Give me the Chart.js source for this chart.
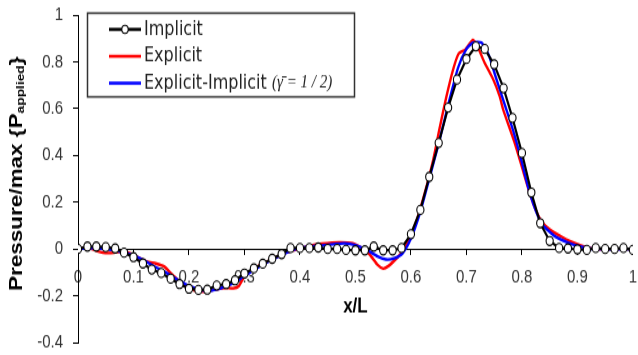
<!DOCTYPE html>
<html>
<head>
<meta charset="utf-8">
<script src="https://cdn.jsdelivr.net/npm/chart.js@4.4.1/dist/chart.umd.min.js"></script>
<style>
  html, body { margin: 0; padding: 0; background: #fff; }
  body { width: 638px; height: 355px; }
  /* the source picture is a vertically stretched plot, so draw at 284px and stretch */
  #wrap { width: 638px; height: 284px; transform: scaleY(1.25); transform-origin: 0 0; }
</style>
</head>
<body>
<div id="wrap"><canvas id="pressureChart"></canvas></div>
<script>
// tick labels
const xTicks = [0, 0.1, 0.2, 0.3, 0.4, 0.5, 0.6, 0.7, 0.8, 0.9, 1];
const yTicks = [-0.4, -0.2, 0, 0.2, 0.4, 0.6, 0.8, 1];

// Implicit (black, with markers)
const implicitX = [
  0, 0.017, 0.033, 0.05, 0.067, 0.083, 0.1, 0.117, 0.133, 0.15,
  0.167, 0.183, 0.2, 0.217, 0.233, 0.25, 0.267, 0.283, 0.3, 0.317,
  0.333, 0.35, 0.367, 0.383, 0.4, 0.417, 0.433, 0.45, 0.467, 0.483,
  0.5, 0.517, 0.533, 0.55, 0.567, 0.583, 0.6, 0.617, 0.633, 0.65,
  0.667, 0.683, 0.7, 0.717, 0.733, 0.75, 0.767, 0.783, 0.8, 0.817,
  0.833, 0.85, 0.867, 0.883, 0.9, 0.917, 0.933, 0.95, 0.967, 0.983, 1
];
const implicitY = [
  0, 0.01, 0.01, 0.008, 0.002, -0.016, -0.035, -0.062, -0.088, -0.103,
  -0.127, -0.15, -0.17, -0.175, -0.174, -0.156, -0.15, -0.134, -0.105, -0.083,
  -0.063, -0.042, -0.022, 0.004, 0.004, 0.004, 0.006, 0, 0, -0.004,
  -0.006, -0.006, 0.01, -0.006, -0.006, 0.004, 0.063, 0.167, 0.308, 0.453,
  0.604, 0.724, 0.812, 0.866, 0.855, 0.789, 0.687, 0.56, 0.41, 0.241,
  0.11, 0.034, 0.004, 0.002, -0.002, -0.004, 0.004, 0, 0, 0.004, -0.004
];

// Explicit (red)
const explicitX = [
  0, 0.02, 0.033, 0.045, 0.065, 0.08, 0.095, 0.11, 0.125, 0.14,
  0.155, 0.17, 0.19, 0.21, 0.23, 0.25, 0.265, 0.28, 0.29, 0.3,
  0.32, 0.34, 0.355, 0.37, 0.385, 0.4, 0.42, 0.44, 0.47, 0.495,
  0.51, 0.525, 0.54, 0.55, 0.56, 0.575, 0.585, 0.595, 0.61, 0.625,
  0.64, 0.652, 0.664, 0.676, 0.686, 0.698, 0.712, 0.721, 0.733, 0.748,
  0.76, 0.766, 0.787, 0.8, 0.814, 0.825, 0.838, 0.855, 0.871, 0.885,
  0.9, 0.915, 0.93, 0.96, 1
];
const explicitY = [
  0.003, 0.005, -0.008, -0.016, -0.016, -0.01, -0.02, -0.038, -0.055, -0.062,
  -0.075, -0.11, -0.155, -0.177, -0.182, -0.172, -0.166, -0.168, -0.158, -0.118,
  -0.08, -0.055, -0.038, -0.02, -0.008, 0.002, 0.014, 0.022, 0.028, 0.024,
  0.006, -0.022, -0.068, -0.084, -0.072, -0.038, -0.01, 0.035, 0.12, 0.24,
  0.38, 0.52, 0.652, 0.767, 0.835, 0.852, 0.894, 0.86, 0.795, 0.726,
  0.652, 0.597, 0.453, 0.35, 0.239, 0.165, 0.11, 0.075, 0.053, 0.035,
  0.02, 0.008, 0, 0, 0
];

// Explicit-Implicit (blue)
const mixedX = [
  0, 0.03, 0.06, 0.08, 0.1, 0.12, 0.14, 0.16, 0.18, 0.2,
  0.22, 0.24, 0.26, 0.28, 0.3, 0.32, 0.34, 0.36, 0.38, 0.4,
  0.42, 0.44, 0.46, 0.48, 0.5, 0.52, 0.54, 0.555, 0.57, 0.585,
  0.6, 0.617, 0.633, 0.65, 0.667, 0.685, 0.7, 0.712, 0.727, 0.74,
  0.754, 0.77, 0.785, 0.8, 0.814, 0.835, 0.859, 0.883, 0.905, 0.93, 1
];
const mixedY = [
  0, 0.005, -0.004, -0.014, -0.028, -0.05, -0.078, -0.103, -0.132, -0.158,
  -0.174, -0.178, -0.166, -0.146, -0.115, -0.085, -0.058, -0.034, -0.012, 0.004,
  0.01, 0.015, 0.02, 0.024, 0.016, -0.004, -0.032, -0.045, -0.04, -0.018,
  0.045, 0.16, 0.3, 0.45, 0.615, 0.775, 0.855, 0.882, 0.882, 0.83,
  0.726, 0.61, 0.5, 0.37, 0.24, 0.11, 0.055, 0.027, 0.01, 0, 0
];

function toPoints(xs, ys) {
  return xs.map((x, i) => ({ x: x, y: ys[i] }));
}

// legend box + y title with subscript, drawn on the canvas
const paperDecor = {
  id: 'paperDecor',
  afterDraw(chart) {
    const ctx = chart.ctx;
    ctx.save();

    // legend
    ctx.strokeStyle = '#333';
    ctx.lineWidth = 1.5;
    ctx.strokeRect(87.5, 10.5, 267, 67);
    const rowY = [23.5, 45, 66.5];
    chart.data.datasets.forEach((ds, i) => {
      const y = rowY[i];
      ctx.strokeStyle = ds.borderColor;
      ctx.lineWidth = 2.5;
      ctx.beginPath();
      ctx.moveTo(109, y);
      ctx.lineTo(141, y);
      ctx.stroke();
      if (ds.pointRadius > 0) {
        ctx.beginPath();
        ctx.arc(125, y, 3.2, 0, Math.PI * 2);
        ctx.fillStyle = '#fff';
        ctx.fill();
        ctx.lineWidth = 1.1;
        ctx.strokeStyle = '#000';
        ctx.stroke();
      }
      ctx.fillStyle = '#222';
      ctx.font = '16px "DejaVu Sans"';
      ctx.textBaseline = 'middle';
      ctx.textAlign = 'left';
      ctx.fillText(ds.label, 144, y);
    });
    ctx.font = 'italic 15px "Liberation Serif"';
    ctx.fillText('(γ\u0304 = 1 / 2)', 272, rowY[2]);

    // y axis title
    ctx.translate(17, 139);
    ctx.rotate(-Math.PI / 2);
    ctx.fillStyle = '#000';
    ctx.textBaseline = 'middle';
    const mainFont = 'bold 18px "Liberation Sans"';
    const subFont = 'bold 11px "Liberation Sans"';
    const t1 = 'Pressure/max {P', t2 = 'applied', t3 = '}';
    ctx.font = mainFont;
    const w1 = ctx.measureText(t1).width, w3 = ctx.measureText(t3).width;
    ctx.font = subFont;
    const w2 = ctx.measureText(t2).width;
    let x0 = -(w1 + w2 + w3) / 2;
    ctx.font = mainFont;
    ctx.fillText(t1, x0, 0);
    ctx.font = subFont;
    ctx.fillText(t2, x0 + w1, 4);
    ctx.font = mainFont;
    ctx.fillText(t3, x0 + w1 + w2, 0);
    ctx.restore();
  }
};

const tickFont = { family: '"Liberation Sans", Arial, sans-serif', size: 15, lineHeight: 1 };

new Chart(document.getElementById('pressureChart').getContext('2d'), {
  type: 'line',
  data: {
    datasets: [{
      label: 'Implicit',
      data: toPoints(implicitX, implicitY),
      borderColor: '#000000',
      borderWidth: 2.2,
      pointRadius: 3.6,
      pointBackgroundColor: '#ffffff',
      pointBorderColor: '#000000',
      pointBorderWidth: 1.1,
      tension: 0,
      order: 0
    }, {
      label: 'Explicit',
      data: toPoints(explicitX, explicitY),
      borderColor: '#ff0000',
      borderWidth: 2.4,
      pointRadius: 0,
      tension: 0.2,
      order: 2
    }, {
      label: 'Explicit-Implicit',
      data: toPoints(mixedX, mixedY),
      borderColor: '#0000ff',
      borderWidth: 2.4,
      pointRadius: 0,
      tension: 0.2,
      order: 1
    }]
  },
  options: {
    responsive: true,
    maintainAspectRatio: false,
    animation: false,
    layout: { padding: { top: 12, bottom: 10, left: 0, right: 3 } },
    plugins: { legend: { display: false }, tooltip: { enabled: false } },
    scales: {
      x: {
        type: 'linear',
        position: { y: 0 },
        min: 0,
        max: 1,
        afterBuildTicks: (scale) => { scale.ticks = xTicks.map(v => ({ value: v })); },
        afterFit: (scale) => { scale.paddingLeft = 0; scale.paddingRight = 0; },
        grid: { drawOnChartArea: false, drawTicks: true, tickLength: 4, color: '#000' },
        border: { display: true, color: '#000', width: 1 },
        ticks: {
          autoSkip: false, maxRotation: 0, padding: 11, color: '#333', font: tickFont,
          callback: (v) => String(Number(v.toFixed(1)))
        },
        title: {
          display: true, text: 'x/L', color: '#000',
          font: { family: '"Liberation Sans", Arial, sans-serif', size: 17, weight: 'bold' },
          padding: { top: -5, bottom: 0 }
        }
      },
      y: {
        type: 'linear',
        position: 'left',
        min: -0.4,
        max: 1,
        afterBuildTicks: (scale) => { scale.ticks = yTicks.map(v => ({ value: v })); },
        afterFit: (scale) => { scale.width = 78; scale.paddingTop = 0; scale.paddingBottom = 0; },
        grid: { drawOnChartArea: false, drawTicks: true, tickLength: 5, color: '#000' },
        border: { display: true, color: '#000', width: 1 },
        ticks: {
          padding: 10, color: '#333', font: tickFont,
          callback: (v) => String(Number(v.toFixed(1)))
        }
      }
    }
  },
  plugins: [paperDecor]
});
</script>
</body>
</html>
